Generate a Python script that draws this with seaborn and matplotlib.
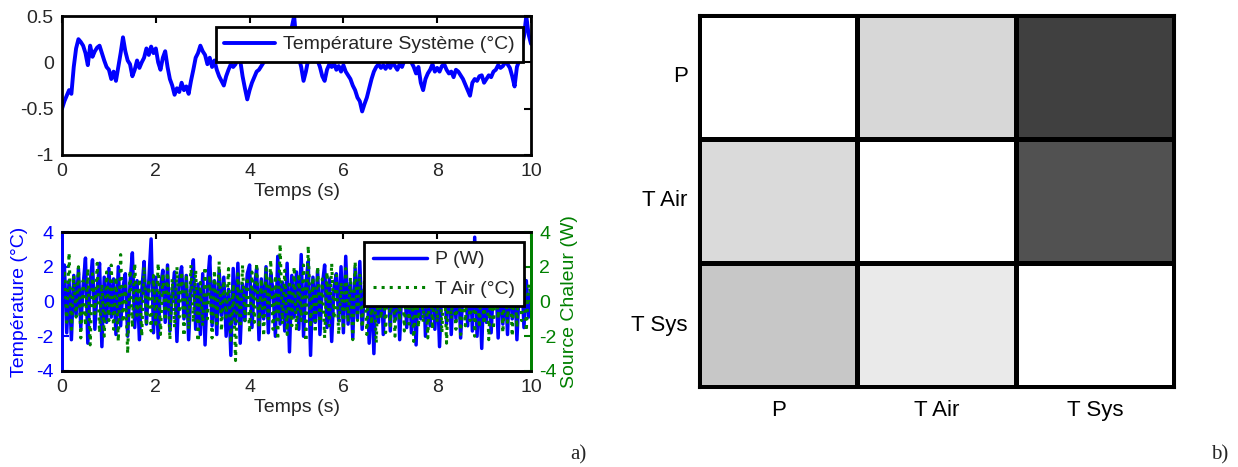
import numpy as np
import pandas as pd
import matplotlib
matplotlib.use('Agg')
import matplotlib.pyplot as plt
import seaborn as sns

# ---------------- data ----------------
sys_temp = [
    -0.50, -0.42, -0.36, -0.30, -0.34, -0.05, 0.15, 0.25, 0.22, 0.18,
    0.10, -0.03, 0.18, 0.06, 0.12, 0.16, 0.18, 0.10, 0.02, -0.05,
    -0.08, -0.18, -0.10, -0.20, -0.05, 0.10, 0.27, 0.12, 0.02, -0.02,
    -0.15, -0.08, 0.02, -0.06, 0.00, 0.05, 0.15, 0.08, 0.17, 0.10,
    0.15, 0.00, -0.08, 0.05, 0.12, -0.05, -0.18, -0.25, -0.35, -0.28,
    -0.32, -0.22, -0.30, -0.26, -0.34, -0.20, -0.08, 0.05, 0.10, 0.18,
    0.12, 0.08, -0.02, 0.05, -0.05, 0.02, -0.08, -0.15, -0.20, -0.25,
    -0.15, -0.08, -0.02, -0.05, -0.02, 0.05, 0.02, -0.15, -0.28, -0.40,
    -0.30, -0.22, -0.16, -0.10, -0.08, -0.04, 0.00, 0.03, 0.08, 0.12,
    0.10, 0.15, 0.12, 0.18, 0.20, 0.16, 0.25, 0.30, 0.38, 0.50,
    0.20, 0.05, -0.05, -0.20, -0.10, 0.03, 0.08, 0.10, 0.05, 0.02,
    -0.05, -0.15, -0.20, -0.08, -0.02, -0.05, -0.01, -0.08, -0.04, -0.10,
    -0.03, -0.10, -0.14, -0.18, -0.25, -0.30, -0.38, -0.42, -0.53, -0.45,
    -0.38, -0.28, -0.18, -0.10, -0.05, -0.02, -0.06, -0.03, -0.07, -0.02,
    -0.06, 0.00, -0.04, -0.08, -0.02, -0.05, 0.02, 0.05, 0.02, 0.00,
    -0.05, -0.12, -0.05, -0.22, -0.30, -0.18, -0.12, -0.08, -0.02, -0.10,
    -0.06, -0.10, -0.04, -0.02, -0.08, -0.12, -0.10, -0.16, -0.08, -0.10,
    -0.14, -0.18, -0.24, -0.30, -0.36, -0.22, -0.18, -0.20, -0.15, -0.14,
    -0.22, -0.18, -0.14, -0.16, -0.10, -0.08, -0.03, -0.06, -0.04, 0.00,
    -0.02, -0.06, -0.15, -0.26, -0.05, 0.02, 0.15, 0.28, 0.50, 0.30,
    0.20,
]

p_power = [
    0.3, 2.1, -1.8, 1.2, -2.2, 1.5, -0.8, 1.9, -1.5, 0.9, 2.5, -2.4, 1.1, 2.4, -1.6, 0.7, 2.2, -2.6, 1.4, -1.2,
    1.9, -0.9, 1.3, -1.9, 2.0, -1.4, 0.8, 1.6, -2.0, 1.0, 2.8, -1.5, 1.2, -2.2, 0.6, 2.3, -1.3, 1.1, 3.6, -1.8,
    1.4, -2.1, 0.9, 1.8, -1.2, 2.1, -1.7, 0.5, 1.7, -2.3, 1.3, 2.0, -1.0, 1.5, -2.2, 0.8, 2.4, -1.6, 1.0, -1.9,
    1.6, -2.5, 0.9, 2.6, -1.4, 1.2, -1.9, 1.8, -0.8, 1.4, -2.0, 0.7, -3.1, 1.9, -1.3, 2.2, -2.4, 1.0, -1.1, 1.6,
    2.1, -1.5, 0.8, 1.9, -2.2, 1.3, -1.0, 2.0, -1.8, 1.6, 0.6, -2.0, 2.6, -1.3, 1.1, -1.7, 2.2, -2.9, 1.5, -0.9,
    1.7, -1.6, 2.7, -2.0, 1.0, 2.3, -3.1, 1.4, -1.2, 1.8, -1.9, 0.9, 2.1, -1.5, 1.3, -2.3, 0.8, 1.6, -1.1, 2.0,
    -1.8, 2.6, -1.3, 1.1, -2.1, 1.9, -1.0, 2.3, -1.6, 0.7, 1.5, -2.4, 1.2, -3.0, 1.7, -1.2, 2.1, -1.9, 0.9, 1.4,
    -1.7, 1.8, -1.1, 2.0, -2.2, 1.0, 1.6, -1.5, 2.4, -1.8, 0.8, -2.5, 1.5, -1.0, 1.9, -2.0, 1.2, -1.4, 2.2, -1.6,
    1.3, -2.6, 0.9, 1.7, -1.3, 2.0, -1.9, 1.1, -1.0, 1.8, -2.1, 0.7, 1.5, -1.4, 2.2, -1.7, 3.7, -2.0, 1.2, -2.7,
    1.6, -1.2, 2.0, -1.8, 0.9, 1.4, -2.1, 1.7, -1.3, 1.1, -1.9, 2.1, -1.0, 1.5, -2.2, 0.8, 1.8, -1.5, 1.2, -0.9, 0.6,
]

t_air = [
    0.5, 1.8, -1.2, 2.8, -1.6, 1.5, -0.9, 2.0, -2.1, 1.2, -1.4, 1.9, -2.5, 1.6, -0.7, 2.2, -1.8, 1.0, -2.0, 1.7,
    -1.1, 2.1, -1.6, 1.4, -2.3, 2.7, -1.2, 0.9, -3.0, 1.8, -1.5, 2.2, -0.8, 1.3, -2.0, 2.0, -1.4, 1.1, -1.7, 1.5,
    -1.3, 2.2, -1.9, 1.6, -1.1, 1.9, -2.2, 1.3, -1.5, 2.0, -0.9, 1.7, -2.0, 1.4, -1.6, 2.1, -1.2, 1.8, -2.3, 1.1,
    -1.4, 2.0, -1.0, 1.5, -2.1, 1.8, -1.3, 2.3, -1.7, 1.2, -0.9, 1.9, -2.4, 1.0, -3.4, 1.6, -1.5, 2.1, -1.1, 1.4,
    -1.8, 1.7, -1.2, 2.2, -1.5, 1.3, -2.0, 1.9, -1.0, 2.4, -1.6, 1.5, -2.2, 3.3, -1.3, 1.8, -1.9, 1.2, -1.4, 2.0,
    -1.7, 1.6, -1.1, 2.1, -2.3, 3.2, -1.5, 1.4, -1.8, 2.0, -1.2, 1.3, -2.1, 1.7, -1.4, 2.2, -1.0, 1.5, -1.9, 1.1,
    -1.6, 1.9, -1.2, 1.4, -2.2, 2.3, -1.1, 1.6, -1.5, 1.2, -1.9, 2.0, -1.3, 1.5, -2.4, 1.7, -1.0, 1.3, -1.8, 2.1,
    -1.4, 1.8, -2.0, 1.2, -1.1, 2.2, -1.7, 1.5, -1.3, 1.9, -2.3, 1.0, -1.5, 2.0, -1.2, 1.4, -2.1, 1.6, -1.6, 1.3,
    -1.2, 2.1, -1.8, 1.5, -2.4, 1.7, -1.0, 1.3, -1.6, 2.0, -1.9, 1.1, -1.4, 1.8, -1.1, 2.2, -2.0, 1.4, -1.5, 1.6,
    -1.3, 1.9, -2.2, 1.2, -1.6, 1.7, -1.0, 2.1, -1.8, 1.4, -1.2, 1.6, -2.0, 1.3, -1.5, 1.8, -1.1, 1.5, -1.7, 1.0, 0.4,
]

x_ticks = [0, 2, 4, 6, 8, 10]
x_ticklabels = ['0', '2', '4', '6', '8', '10']
top_yticks = [-1, -0.5, 0, 0.5]
top_yticklabels = ['-1', '-0.5', '0', '0.5']
bot_yticks = [-4, -2, 0, 2, 4]
bot_yticklabels = ['-4', '-2', '0', '2', '4']

heat_labels = ['P', 'T Air', 'T Sys']
heat_row_p = [1.0, 0.84, 0.25]
heat_row_tair = [0.855, 1.0, 0.32]
heat_row_tsys = [0.78, 0.915, 1.0]

# ---------------- style ----------------
sns.set_theme(style='white')
plt.rcParams['font.family'] = ['Liberation Sans', 'DejaVu Sans']
plt.rcParams['axes.unicode_minus'] = False

BLUE = '#0000ff'
GREEN = '#008000'
FS = 14

fig = plt.figure(figsize=(12.38, 4.67), dpi=100)


def frame(ax, lw=2.0):
    for s in ax.spines.values():
        s.set_visible(True)
        s.set_color('black')
        s.set_linewidth(lw)


# ---------------- top plot ----------------
ax1 = fig.add_axes([0.0501, 0.6681, 0.3788, 0.2976])
t_sys = np.linspace(0, 10, len(sys_temp))
df_sys = pd.DataFrame({'t': t_sys, 'v': sys_temp})
sns.lineplot(data=df_sys, x='t', y='v', ax=ax1, color=BLUE, linewidth=2.8,
             label='Température Système (°C)', sort=False, errorbar=None)
ax1.set_xlim(0, 10)
ax1.set_ylim(-1, 0.5)
ax1.set_xticks(x_ticks)
ax1.set_xticklabels(x_ticklabels)
ax1.set_yticks(top_yticks)
ax1.set_yticklabels(top_yticklabels)
ax1.set_xlabel('Temps (s)', fontsize=FS, labelpad=2)
ax1.set_ylabel('')
ax1.tick_params(direction='in', length=5, width=1.5, top=True, right=True,
                labelsize=FS, pad=6, color='black')
frame(ax1)
leg1 = ax1.legend(loc='upper right', bbox_to_anchor=(0.983, 0.921), borderaxespad=0,
                  fontsize=FS, fancybox=False, framealpha=1, edgecolor='black',
                  handlelength=2.6, handletextpad=0.4, borderpad=0.45)
leg1.get_frame().set_linewidth(2.0)

# ---------------- bottom plot ----------------
ax2 = fig.add_axes([0.0501, 0.2056, 0.3788, 0.2976])
ax3 = ax2.twinx()
t_p = np.linspace(0, 10, len(p_power))
t_a = np.linspace(0, 10, len(t_air))
df_p = pd.DataFrame({'t': t_p, 'v': p_power})
df_a = pd.DataFrame({'t': t_a, 'v': t_air})
sns.lineplot(data=df_p, x='t', y='v', ax=ax2, color=BLUE, linewidth=2.5,
             sort=False, errorbar=None, legend=False)
sns.lineplot(data=df_a, x='t', y='v', ax=ax3, color=GREEN, linewidth=2.2,
             linestyle=':', sort=False, errorbar=None, legend=False)
for a in (ax2, ax3):
    a.set_xlim(0, 10)
    a.set_ylim(-4, 4)
    a.set_yticks(bot_yticks)
    a.set_yticklabels(bot_yticklabels)
ax2.set_xticks(x_ticks)
ax2.set_xticklabels(x_ticklabels)
ax2.set_xlabel('Temps (s)', fontsize=FS, labelpad=2)
ax2.set_ylabel('Température (°C)', fontsize=FS, color=BLUE, labelpad=6)
ax3.set_ylabel('Source Chaleur (W)', fontsize=FS, color=GREEN, labelpad=3)
ax2.tick_params(axis='x', direction='in', length=5, width=1.5, top=True,
                labelsize=FS, pad=6, color='black')
ax2.tick_params(axis='y', direction='in', length=5, width=1.5, colors=BLUE,
                labelsize=FS, pad=6)
ax3.tick_params(axis='y', direction='in', length=5, width=1.5, colors=GREEN,
                labelsize=FS, pad=6)
frame(ax2)
frame(ax3)
ax2.spines['left'].set_color(BLUE)
ax3.spines['left'].set_color(BLUE)
ax3.spines['right'].set_color(GREEN)
ax2.spines['right'].set_color(GREEN)

h_p = plt.Line2D([], [], color=BLUE, linewidth=2.5)
h_a = plt.Line2D([], [], color=GREEN, linewidth=2.2, linestyle=':')
leg2 = ax3.legend([h_p, h_a], ['P (W)', 'T Air (°C)'], loc='upper right',
                  bbox_to_anchor=(0.985, 0.928), borderaxespad=0, fontsize=FS,
                  fancybox=False, framealpha=1, edgecolor='black',
                  handlelength=2.8, handletextpad=0.4, borderpad=0.45,
                  labelspacing=0.6)
leg2.get_frame().set_linewidth(2.0)

# ---------------- heatmap ----------------
axh = fig.add_axes([0.5646, 0.1713, 0.3837, 0.7966])
heat_df = pd.DataFrame([heat_row_p, heat_row_tair, heat_row_tsys],
                       index=heat_labels, columns=heat_labels)
sns.heatmap(heat_df, ax=axh, cmap='gray', vmin=0, vmax=1, cbar=False,
            linewidths=2.2, linecolor='black', square=False)
axh.tick_params(axis='both', length=0, labelsize=16, colors='black')
axh.tick_params(axis='y', pad=8, rotation=0)
axh.tick_params(axis='x', pad=9, rotation=0)
axh.set_xlabel('')
axh.set_ylabel('')
frame(axh, lw=2.2)

# ---------------- panel letters ----------------
fig.text(0.467, 0.026, 'a)', fontsize=15, family=['Liberation Serif', 'DejaVu Serif'],
         ha='center', va='center')
fig.text(0.985, 0.026, 'b)', fontsize=15, family=['Liberation Serif', 'DejaVu Serif'],
         ha='center', va='center')

fig.savefig('out.png', dpi=100)
